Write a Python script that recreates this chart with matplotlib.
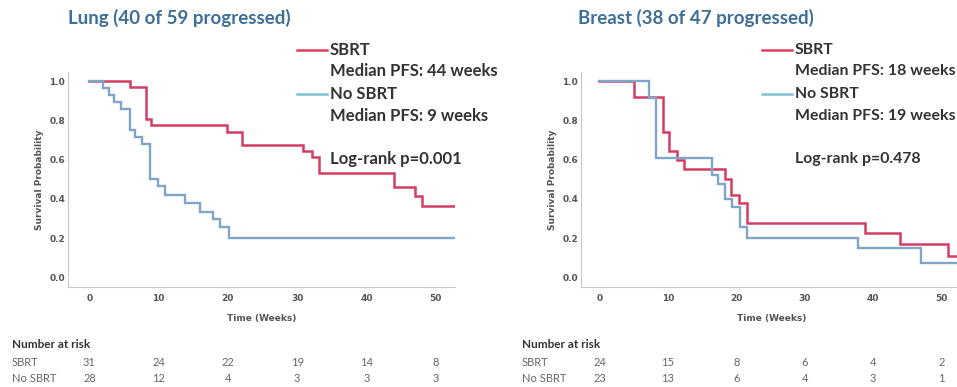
import matplotlib
matplotlib.use("Agg")
import matplotlib.pyplot as plt
from matplotlib.lines import Line2D
from matplotlib.transforms import blended_transform_factory

# ---- data -------------------------------------------------------------
weeks_ticks = [0, 10, 20, 30, 40, 50]
surv_ticks = [0.0, 0.2, 0.4, 0.6, 0.8, 1.0]

# Lung cohort (step curves: event times in weeks, survival after each step)
lung_sbrt_t = [0, 5.9, 8.1, 8.9, 19.9, 22.1, 30.9, 32.2, 33.1, 44.0, 47.0, 48.1, 52.7]
lung_sbrt_s = [1.0, 0.968, 0.806, 0.774, 0.742, 0.677, 0.645, 0.612, 0.53, 0.459, 0.415, 0.364, 0.364]
lung_nosbrt_t = [0, 2.0, 2.8, 3.6, 4.6, 5.9, 6.6, 7.6, 8.8, 9.9, 10.9, 13.8, 16.0, 17.9, 18.9, 20.1, 52.7]
lung_nosbrt_s = [1.0, 0.964, 0.929, 0.893, 0.857, 0.75, 0.714, 0.679, 0.5, 0.464, 0.42, 0.378, 0.335, 0.30, 0.259, 0.20, 0.20]

# Breast cohort
breast_sbrt_t = [0, 5.1, 9.3, 10.2, 11.3, 12.4, 18.3, 19.3, 20.4, 21.5, 38.8, 43.9, 51.0, 53.5]
breast_sbrt_s = [1.0, 0.917, 0.74, 0.645, 0.60, 0.553, 0.50, 0.42, 0.378, 0.279, 0.225, 0.171, 0.11, 0.11]
breast_nosbrt_t = [0, 7.2, 8.3, 16.4, 17.4, 18.3, 19.4, 20.5, 21.5, 37.8, 47.0, 53.5]
breast_nosbrt_s = [1.0, 0.913, 0.609, 0.522, 0.478, 0.40, 0.36, 0.256, 0.203, 0.152, 0.076, 0.076]

lung_risk_sbrt = [31, 24, 22, 19, 14, 8]
lung_risk_nosbrt = [28, 12, 4, 3, 3, 3]
breast_risk_sbrt = [24, 15, 8, 6, 4, 2]
breast_risk_nosbrt = [23, 13, 6, 4, 3, 1]

panels = [
    dict(title="Lung (40 of 59 progressed)",
         sbrt=(lung_sbrt_t, lung_sbrt_s), nosbrt=(lung_nosbrt_t, lung_nosbrt_s),
         med_sbrt="Median PFS: 44 weeks", med_nosbrt="Median PFS: 9 weeks",
         logrank="Log-rank p=0.001",
         risk_sbrt=lung_risk_sbrt, risk_nosbrt=lung_risk_nosbrt),
    dict(title="Breast (38 of 47 progressed)",
         sbrt=(breast_sbrt_t, breast_sbrt_s), nosbrt=(breast_nosbrt_t, breast_nosbrt_s),
         med_sbrt="Median PFS: 18 weeks", med_nosbrt="Median PFS: 19 weeks",
         logrank="Log-rank p=0.478",
         risk_sbrt=breast_risk_sbrt, risk_nosbrt=breast_risk_nosbrt),
]

# ---- layout (pixel geometry of the 957x387 canvas) ----------------------
W, H = 957, 387
RED = "#d33d63"
BLUE = "#7fa6c9"
LEG_RED = "#e0405e"
LEG_BLUE = "#7fc2d6"
TXT = "#333333"
TITLE = "#3f6f96"
AXTXT = "#555555"

layout = [
    dict(ax=(68, 455), xlim=(-3.1, 52.8), title_x=68, leg_x=297, table_x=12, leg_size=12),
    dict(ax=(581, 962), xlim=(-2.7, 53.0), title_x=578, leg_x=762, table_x=522, leg_size=11.4),
]
AX_TOP, AX_BOT = 72, 287

fig = plt.figure(figsize=(W / 100, H / 100), dpi=100)
fig.patch.set_facecolor("white")


def fx(px):
    return px / W


def fy(py):
    return 1 - py / H


for p, lay in zip(panels, layout):
    x0, x1 = lay["ax"]
    ax = fig.add_axes([fx(x0), fy(AX_BOT), (x1 - x0) / W, (AX_BOT - AX_TOP) / H])
    ax.set_xlim(*lay["xlim"])
    ax.set_ylim(-0.048, 1.046)

    t, s = p["sbrt"]
    ax.step(t, s, where="post", color=RED, lw=1.8, solid_joinstyle="miter")
    t, s = p["nosbrt"]
    ax.step(t, s, where="post", color=BLUE, lw=1.7, solid_joinstyle="miter")

    for side in ("top", "right"):
        ax.spines[side].set_visible(False)
    for side in ("left", "bottom"):
        ax.spines[side].set_color("#c8c8c8")
        ax.spines[side].set_linewidth(0.8)

    ax.set_xticks(weeks_ticks)
    ax.set_yticks(surv_ticks)
    ax.set_yticklabels([f"{v:.1f}" for v in surv_ticks])
    ax.tick_params(length=0, labelsize=6.5, labelcolor=AXTXT, pad=2)
    ax.tick_params(axis="x", pad=5)
    for lbl in ax.get_xticklabels() + ax.get_yticklabels():
        lbl.set_fontweight("bold")
    ax.set_xlabel("Time (Weeks)", fontsize=6.5, fontweight="bold", color=AXTXT, labelpad=8)
    ax.set_ylabel("Survival Probability", fontsize=6.5, fontweight="bold", color=AXTXT, labelpad=4)

    # panel title
    fig.text(fx(lay["title_x"]), fy(18), p["title"], fontsize=13.5, fontweight="bold",
             family="Lato", color=TITLE, va="center", ha="left")

    # legend block
    lx = lay["leg_x"]
    fig.add_artist(Line2D([fx(lx), fx(lx + 30)], [fy(50), fy(50)], color=LEG_RED, lw=1.8))
    fig.add_artist(Line2D([fx(lx), fx(lx + 30)], [fy(94), fy(94)], color=LEG_BLUE, lw=1.8))
    tx = lx + 33
    for y, s in [(50, "SBRT"), (71, p["med_sbrt"]), (94, "No SBRT"),
                 (116, p["med_nosbrt"]), (159, p["logrank"])]:
        fig.text(fx(tx), fy(y), s, fontsize=lay["leg_size"], fontweight="bold", family="Lato",
                 color=TXT, va="center", ha="left")

    # number-at-risk table
    tb = lay["table_x"]
    fig.text(fx(tb), fy(345), "Number at risk", fontsize=8.5, fontweight="bold",
             family="Lato", color=TXT, va="center", ha="left")
    fig.text(fx(tb), fy(362), "SBRT", fontsize=8, family="Lato", color="#666666",
             va="center", ha="left")
    fig.text(fx(tb), fy(379), "No SBRT", fontsize=8, family="Lato", color="#666666",
             va="center", ha="left")
    trans = blended_transform_factory(ax.transData, fig.transFigure)
    for wk, a, b in zip(weeks_ticks, p["risk_sbrt"], p["risk_nosbrt"]):
        fig.text(wk, fy(362), str(a), transform=trans, fontsize=8, family="Lato",
                 color="#666666", va="center", ha="center")
        fig.text(wk, fy(379), str(b), transform=trans, fontsize=8, family="Lato",
                 color="#666666", va="center", ha="center")

fig.savefig("out.png", dpi=100, facecolor="white")
